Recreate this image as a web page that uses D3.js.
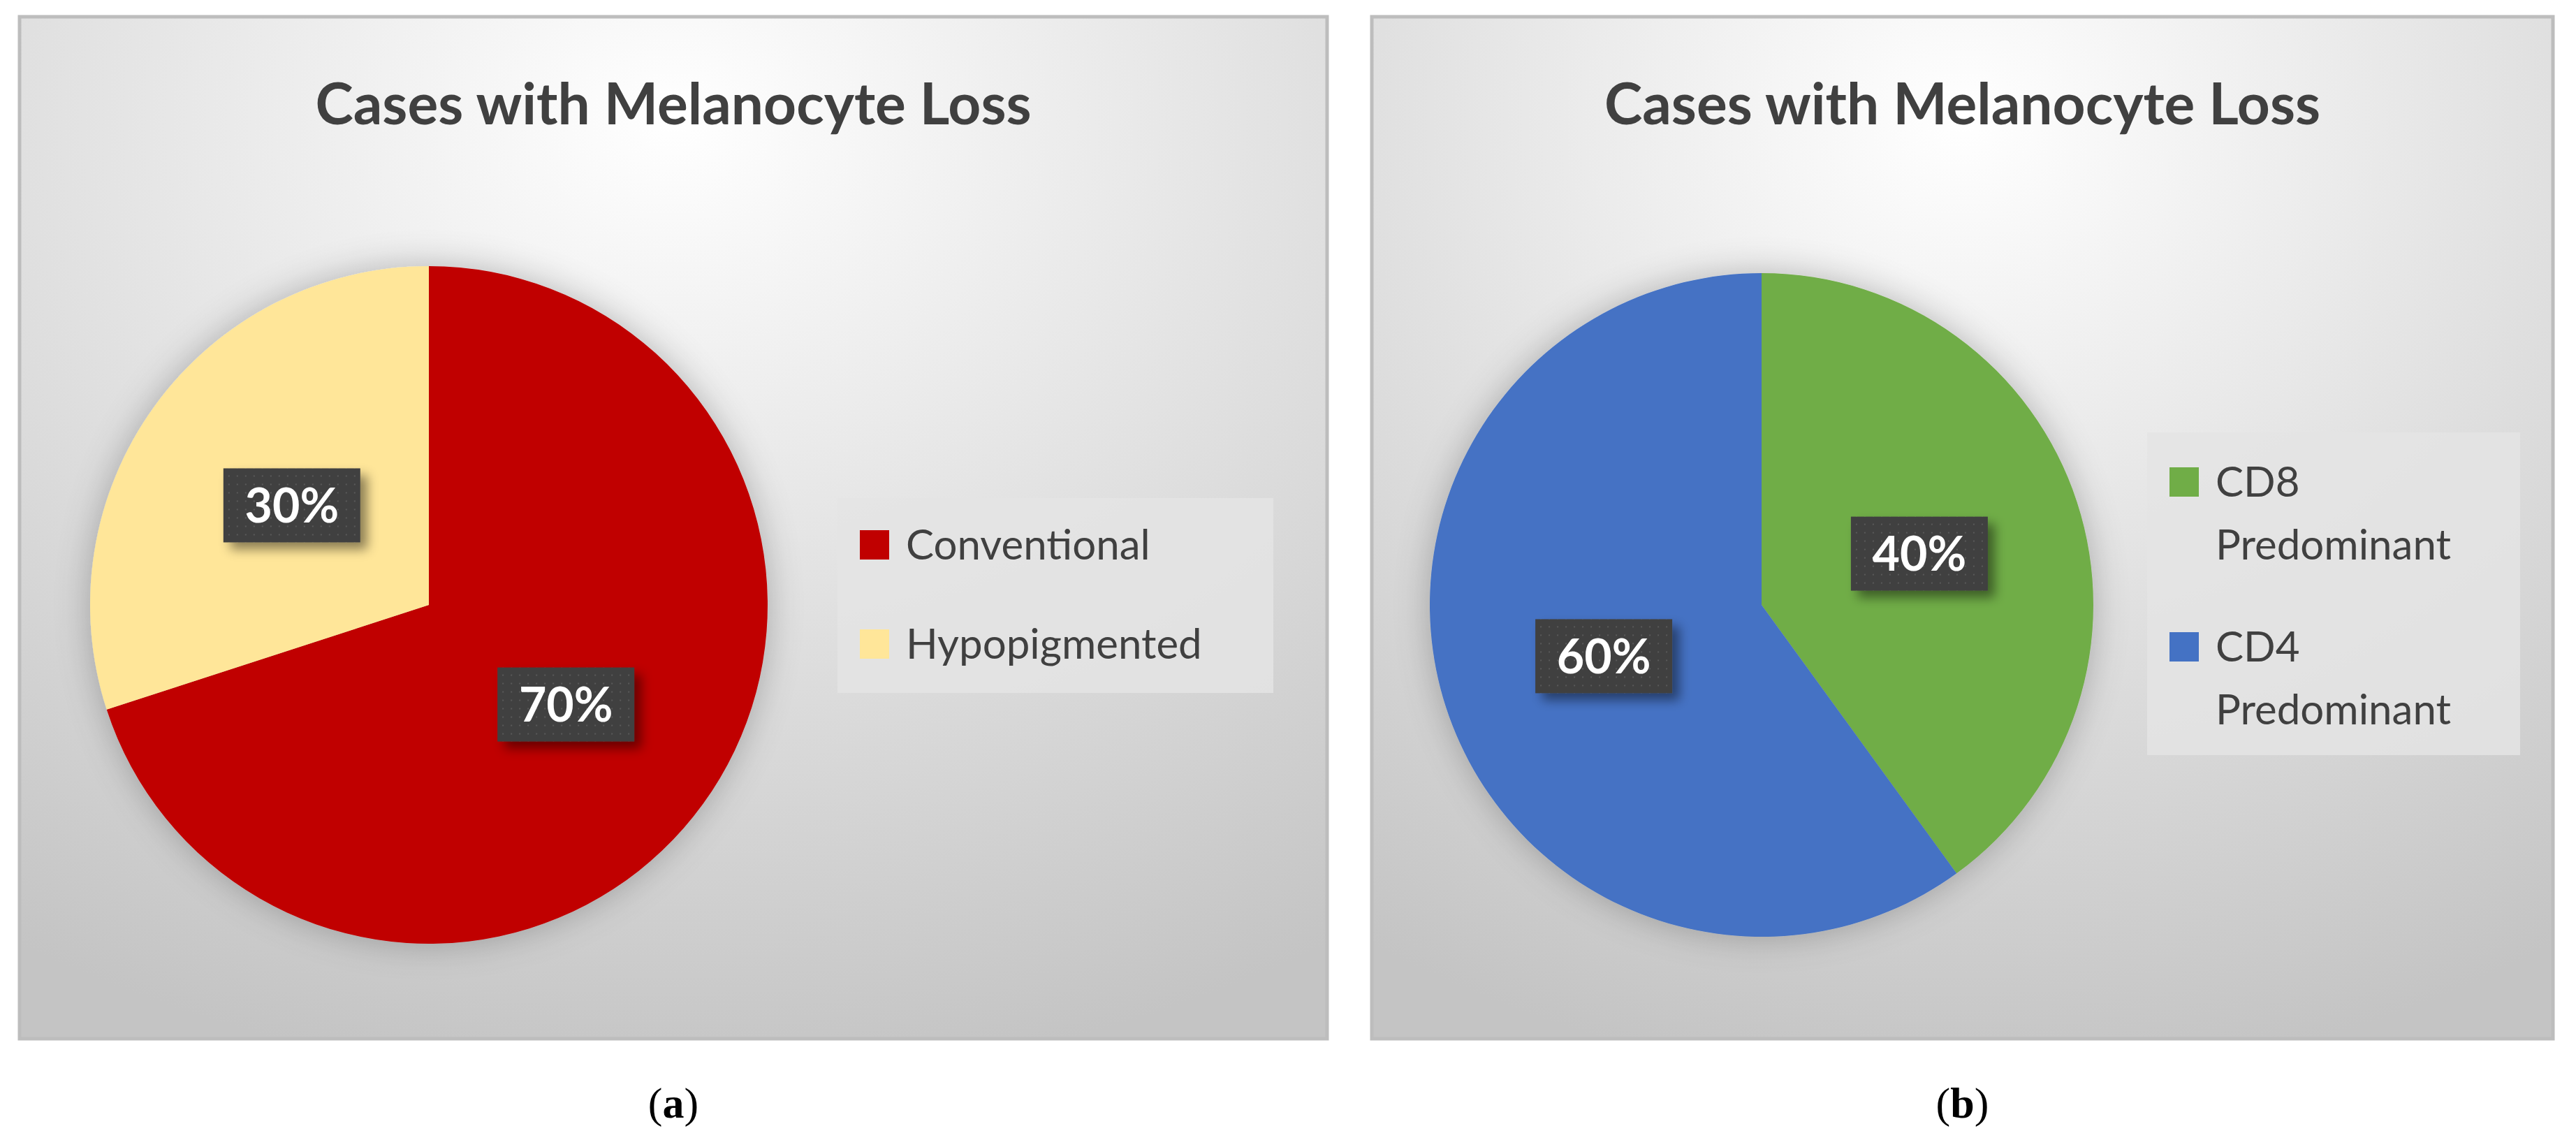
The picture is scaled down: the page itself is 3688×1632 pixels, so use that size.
<!DOCTYPE html>
<html><head><meta charset="utf-8">
<script src="https://cdn.jsdelivr.net/npm/d3@7"></script>
<style>body{margin:0;background:#fff}</style>
</head><body><svg id="chart"></svg>
<script>
var screen = {width: 3688, height: 1632};

var title = "Cases with Melanocyte Loss";
var catsA = ["Conventional", "Hypopigmented"];
var valsA = [70, 30];
var colorsA = ["#C00000", "#FFE699"];
var catsB = [["CD8", "Predominant"], ["CD4", "Predominant"]];
var valsB = [40, 60];
var colorsB = ["#70AD47", "#4472C4"];
var captions = ["a", "b"];

var svg = d3.select("#chart").attr("width", screen.width).attr("height", screen.height);
var defs = svg.append("defs");

var grad = defs.append("radialGradient").attr("id", "bg")
  .attr("cx", "50%").attr("cy", "10%").attr("r", "95%");
grad.append("stop").attr("offset", "0%").attr("stop-color", "#ffffff");
grad.append("stop").attr("offset", "100%").attr("stop-color", "#c4c4c4");

var glow = defs.append("filter").attr("id", "glow").attr("x", "-20%").attr("y", "-20%").attr("width", "140%").attr("height", "140%");
glow.append("feGaussianBlur").attr("in", "SourceAlpha").attr("stdDeviation", 25).attr("result", "b");
glow.append("feFlood").attr("flood-color", "#000").attr("flood-opacity", 0.25);
glow.append("feComposite").attr("in2", "b").attr("operator", "in");
var m = glow.append("feMerge"); m.append("feMergeNode"); m.append("feMergeNode").attr("in", "SourceGraphic");

var sh = defs.append("filter").attr("id", "shadow").attr("x", "-30%").attr("y", "-30%").attr("width", "170%").attr("height", "170%");
sh.append("feDropShadow").attr("dx", 10).attr("dy", 10).attr("stdDeviation", 8).attr("flood-color", "#000").attr("flood-opacity", 0.45);

var pat = defs.append("pattern").attr("id", "dots").attr("width", 12).attr("height", 12).attr("patternUnits", "userSpaceOnUse");
pat.append("rect").attr("width", 12).attr("height", 12).attr("fill", "#404040");
pat.append("rect").attr("x", 5).attr("y", 5).attr("width", 2).attr("height", 2).attr("fill", "#5a5a5a");

function panel(o) {
  var g = svg.append("g");
  g.append("rect").attr("x", o.x).attr("y", 24).attr("width", o.w).attr("height", 1463)
    .attr("fill", "url(#bg)").attr("stroke", "#bdbdbd").attr("stroke-width", 5);
  g.append("text").attr("x", o.x + o.w / 2).attr("y", 178).attr("text-anchor", "middle")
    .attr("font-family", "Lato, 'Open Sans', sans-serif").attr("font-weight", "bold")
    .attr("font-size", 82).attr("fill", "#404040").text(title);

  var pie = d3.pie().sort(null).value(function(d){ return d; });
  var arcs = pie(o.vals);
  var arc = d3.arc().innerRadius(0).outerRadius(o.r);
  var lab = d3.arc().innerRadius(o.r * 0.5).outerRadius(o.r * 0.5);
  var color = d3.scaleOrdinal().domain(d3.range(o.vals.length)).range(o.colors);
  var total = d3.sum(o.vals);

  var pg = g.append("g").attr("transform", "translate(" + o.cx + ",866)");
  pg.append("g").attr("filter", "url(#glow)").selectAll("path").data(arcs).enter().append("path")
    .attr("d", arc).attr("fill", function(d, i){ return color(i); });

  var lg = pg.selectAll("g.lab").data(arcs).enter().append("g").attr("class", "lab")
    .attr("transform", function(d){ var c = lab.centroid(d); return "translate(" + c[0] + "," + c[1] + ")"; });
  lg.append("rect").attr("x", -98).attr("y", -53).attr("width", 196).attr("height", 106)
    .attr("fill", "url(#dots)").attr("filter", "url(#shadow)");
  lg.append("text").attr("text-anchor", "middle").attr("dy", "0.36em")
    .attr("font-family", "Lato, 'Open Sans', sans-serif").attr("font-weight", "bold")
    .attr("font-size", 68).attr("fill", "#fff")
    .text(function(d){ return Math.round(d.data / total * 100) + "%"; });

  var leg = g.append("g");
  leg.append("rect").attr("x", o.lx).attr("y", o.ly).attr("width", o.lw).attr("height", o.lh)
    .attr("fill", "#e4e4e4").attr("opacity", 0.85);
  var items = leg.selectAll("g.item").data(o.cats).enter().append("g").attr("class", "item")
    .attr("transform", function(d, i){ return "translate(" + (o.lx + 32) + "," + (o.ly + o.lpad + i * o.lstep) + ")"; });
  items.append("rect").attr("x", 0).attr("y", -20).attr("width", 42).attr("height", 42)
    .attr("fill", function(d, i){ return color(i); });
  items.append("text").attr("x", 66).attr("font-family", "Lato, 'Open Sans', sans-serif")
    .attr("font-size", 60).attr("fill", "#404040")
    .selectAll("tspan").data(function(d){ return [].concat(d); }).enter().append("tspan")
    .attr("x", 66).attr("dy", function(d, i){ return i === 0 ? "0.36em" : "1.5em"; })
    .text(function(d){ return d; });

  svg.append("text").attr("x", o.x + o.w / 2).attr("y", 1600).attr("text-anchor", "middle")
    .attr("font-family", "'Liberation Serif', serif").attr("font-size", 62).attr("fill", "#000")
    .html("(<tspan font-weight='bold'>" + o.cap + "</tspan>)");
}

panel({x: 28, w: 1872, cx: 614, r: 485, vals: valsA, colors: colorsA, cats: catsA,
  lx: 1199, ly: 713, lw: 624, lh: 279, lpad: 66, lstep: 142, cap: captions[0]});
panel({x: 1964, w: 1691, cx: 2522, r: 475, vals: valsB, colors: colorsB, cats: catsB,
  lx: 3074, ly: 619, lw: 534, lh: 462, lpad: 70, lstep: 236, cap: captions[1]});
</script></body></html>
